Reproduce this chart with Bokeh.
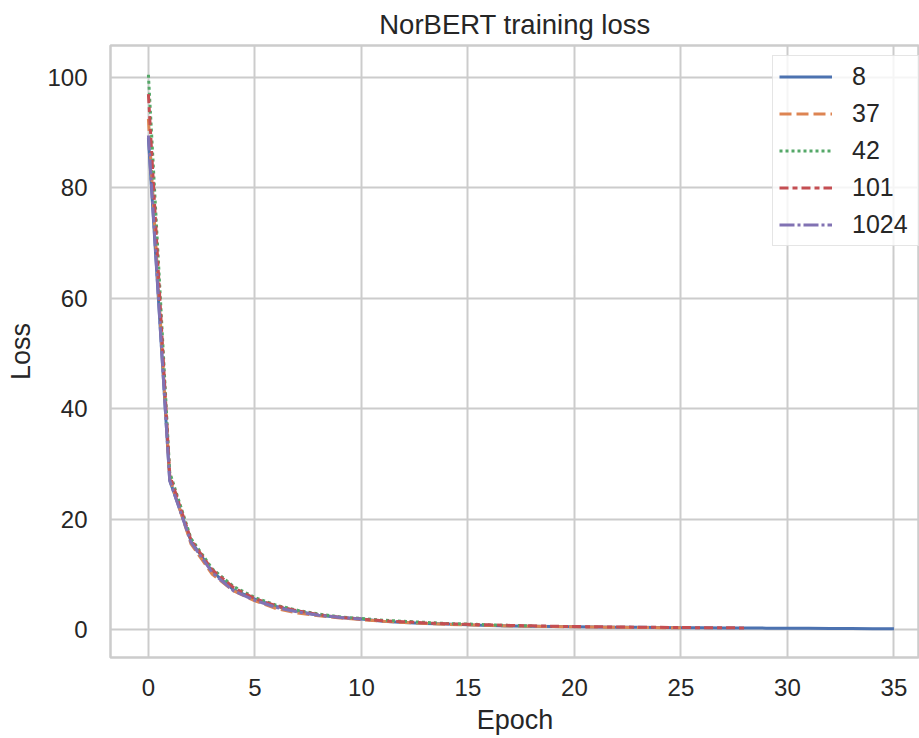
from bokeh.plotting import figure
from bokeh.models import Range1d, Legend, LegendItem, FixedTicker
from bokeh.embed import file_html
from bokeh.resources import INLINE

# ---- data ----
seeds = ["8", "37", "42", "101", "1024"]

epochs_8 = list(range(0, 36))
loss_8 = [89, 27, 16, 10.5, 7.2, 5.5, 4.2, 3.3, 2.6, 2.2, 1.9, 1.5, 1.3, 1.1, 1.0,
          0.85, 0.75, 0.65, 0.6, 0.55, 0.5, 0.45, 0.42, 0.4, 0.37, 0.35, 0.32, 0.3,
          0.28, 0.26, 0.24, 0.22, 0.2, 0.18, 0.17, 0.15]

epochs_37 = list(range(0, 26))
loss_37 = [92.5, 27.5, 15.5, 10, 7, 5.2, 3.8, 3.0, 2.5, 2.1, 1.8, 1.5, 1.3, 1.1, 0.95,
           0.85, 0.75, 0.65, 0.6, 0.55, 0.5, 0.45, 0.42, 0.38, 0.35, 0.33]

epochs_42 = list(range(0, 19))
loss_42 = [100.5, 28.5, 16.5, 11, 7.8, 5.8, 4.4, 3.5, 2.8, 2.3, 2.0, 1.7, 1.5, 1.3,
           1.1, 1.0, 0.85, 0.75, 0.65]

epochs_101 = list(range(0, 29))
loss_101 = [97, 28, 16.2, 10.8, 7.6, 5.6, 4.3, 3.4, 2.7, 2.2, 1.9, 1.6, 1.4, 1.2, 1.05,
            0.95, 0.85, 0.75, 0.68, 0.6, 0.55, 0.5, 0.47, 0.43, 0.4, 0.37, 0.34, 0.32, 0.3]

epochs_1024 = list(range(0, 11))
loss_1024 = [89.5, 27, 15.8, 10.3, 7.0, 5.3, 4.0, 3.2, 2.6, 2.2, 1.9]

x_ticks = [0, 5, 10, 15, 20, 25, 30, 35]
y_ticks = [0, 20, 40, 60, 80, 100]

colors = ["#4c72b0", "#dd8452", "#55a868", "#c44e52", "#8172b3"]
dashes = ["solid", "12 5", "3 3", "9 4 5 4", "15 3 3 3"]

FONT = "Liberation Sans"
TXT = "#262626"
GRID = "#cccccc"

p = figure(width=919, height=738, output_backend="svg", toolbar_location=None,
           x_range=Range1d(-1.78, 36.2), y_range=Range1d(-5.06, 105.8),
           min_border_left=110, min_border_right=0, min_border_top=44,
           min_border_bottom=81)

p.background_fill_color = "white"
p.border_fill_color = "white"
p.outline_line_color = GRID
p.outline_line_width = 2.5

p.title.text = "NorBERT training loss"
p.title.align = "center"
p.title.text_font = FONT
p.title.text_font_size = "27.5px"
p.title.text_font_style = "normal"
p.title.text_color = TXT
p.title.standoff = 12

for ax in (p.xaxis[0], p.yaxis[0]):
    ax.axis_line_color = None
    ax.major_tick_line_color = None
    ax.minor_tick_line_color = None
    ax.major_tick_out = 0
    ax.major_tick_in = 0
    ax.major_label_text_font = FONT
    ax.major_label_text_font_size = "24px"
    ax.major_label_text_color = TXT
    ax.axis_label_text_font = FONT
    ax.axis_label_text_font_size = "27px"
    ax.axis_label_text_font_style = "normal"
    ax.axis_label_text_color = TXT

p.xaxis.ticker = FixedTicker(ticks=x_ticks)
p.yaxis.ticker = FixedTicker(ticks=y_ticks)
p.xaxis.axis_label = "Epoch"
p.yaxis.axis_label = "Loss"
p.xaxis.major_label_standoff = 21
p.yaxis.major_label_standoff = 23
p.xaxis.axis_label_standoff = 6
p.yaxis.axis_label_standoff = 8

p.xgrid.grid_line_color = GRID
p.ygrid.grid_line_color = GRID
p.xgrid.grid_line_width = 2
p.ygrid.grid_line_width = 2

series = [(epochs_8, loss_8), (epochs_37, loss_37), (epochs_42, loss_42),
          (epochs_101, loss_101), (epochs_1024, loss_1024)]

items = []
for (xs, ys), name, c, d in zip(series, seeds, colors, dashes):
    r = p.line(xs, ys, line_color=c, line_width=3, line_dash=d, line_join="round")
    items.append(LegendItem(label=name, renderers=[r]))

legend = Legend(items=items, location=(662, 411))
legend.label_text_font = FONT
legend.label_text_font_size = "25px"
legend.label_text_color = TXT
legend.glyph_width = 53
legend.glyph_height = 25
legend.label_height = 25
legend.label_width = 60
legend.spacing = 8
legend.padding = 6
legend.label_standoff = 20
legend.margin = 0
legend.border_line_color = GRID
legend.border_line_width = 1.5
legend.background_fill_color = "white"
legend.background_fill_alpha = 0.8
p.add_layout(legend, "center")

open("out.html", "w").write(file_html(p, INLINE))
